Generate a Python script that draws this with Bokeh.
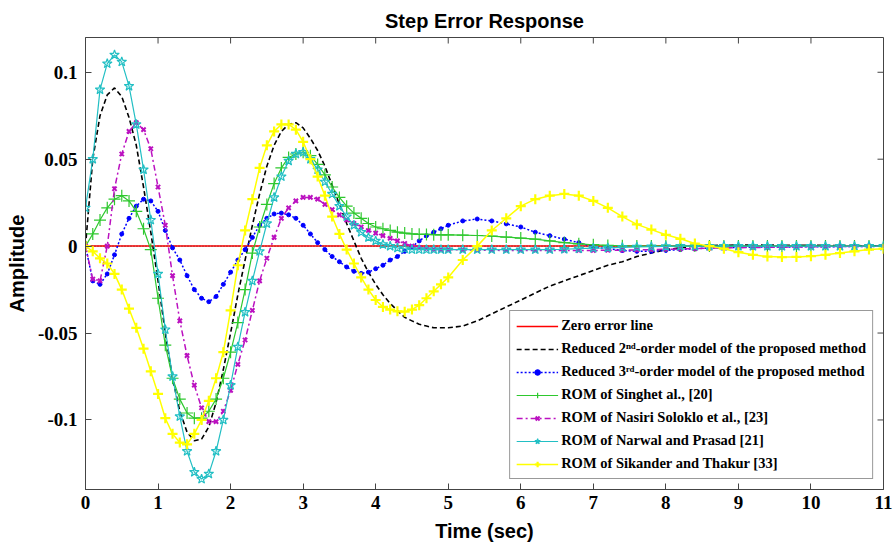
from bokeh.plotting import figure
from bokeh.models import Legend, LegendItem, FixedTicker, Range1d
from bokeh.embed import file_html
from bokeh.resources import INLINE

# ---------------- data ----------------
t = [0.0, 0.1, 0.2, 0.3, 0.4, 0.5, 0.6, 0.7, 0.8, 0.9,
     1.0, 1.1, 1.2, 1.3, 1.4, 1.5, 1.6, 1.7, 1.8, 1.9,
     2.0, 2.1, 2.2, 2.3, 2.4, 2.5, 2.6, 2.7, 2.8, 2.9,
     3.0, 3.1, 3.2, 3.3, 3.4, 3.5, 3.6, 3.7, 3.8, 3.9,
     4.0, 4.1, 4.2, 4.3, 4.4, 4.5, 4.6, 4.7, 4.8, 4.9,
     5.0, 5.2, 5.4, 5.6, 5.8, 6.0, 6.2, 6.4, 6.6, 6.8,
     7.0, 7.2, 7.4, 7.6, 7.8, 8.0, 8.2, 8.4, 8.6, 8.8,
     9.0, 9.2, 9.4, 9.6, 9.8, 10.0, 10.2, 10.4, 10.6, 10.8, 11.0]

zero_line = [0.0] * len(t)

reduced_2nd = [0.000, 0.050, 0.075, 0.087, 0.091, 0.086, 0.074, 0.058, 0.034, 0.008,
               -0.020, -0.050, -0.076, -0.095, -0.107, -0.112, -0.111, -0.104, -0.090, -0.071,
               -0.050, -0.028, -0.008, 0.012, 0.030, 0.046, 0.058, 0.066, 0.070, 0.071,
               0.068, 0.062, 0.055, 0.046, 0.035, 0.024, 0.013, 0.003, -0.007, -0.015,
               -0.022, -0.028, -0.033, -0.037, -0.041, -0.043, -0.045, -0.046, -0.047, -0.047,
               -0.047, -0.046, -0.043, -0.039, -0.035, -0.031, -0.027, -0.023, -0.020, -0.017,
               -0.014, -0.011, -0.009, -0.006, -0.004, -0.002, -0.001, 0.000, 0.0003, 0.0005,
               0.0006, 0.0006, 0.0006, 0.0005, 0.0005, 0.0004, 0.0004, 0.0003, 0.0003, 0.0002, 0.0002]

reduced_3rd = [0.000, -0.020, -0.022, -0.016, -0.005, 0.007, 0.016, 0.023, 0.027, 0.026,
               0.020, 0.009, -0.001, -0.008, -0.017, -0.025, -0.030, -0.032, -0.029, -0.022,
               -0.015, -0.008, -0.002, 0.005, 0.012, 0.016, 0.0185, 0.019, 0.018, 0.016,
               0.012, 0.007, 0.002, -0.002, -0.006, -0.009, -0.012, -0.0145, -0.0157, -0.015,
               -0.013, -0.011, -0.008, -0.006, -0.003, -0.0005, 0.003, 0.006, 0.008, 0.010,
               0.012, 0.0145, 0.0156, 0.0145, 0.0128, 0.011, 0.008, 0.006, 0.004, 0.002,
               -0.0005, -0.0015, -0.0025, -0.003, -0.003, -0.0025, -0.002, -0.0015, -0.001, -0.0008,
               -0.0007, -0.0006, -0.0005, -0.0005, -0.0004, -0.0004, -0.0003, -0.0003, -0.0002, -0.0002, -0.0001]

rom_singh = [0.000, 0.007, 0.015, 0.022, 0.027, 0.029, 0.026, 0.020, 0.010, -0.002,
             -0.030, -0.057, -0.076, -0.088, -0.096, -0.099, -0.099, -0.095, -0.088, -0.076,
             -0.061, -0.044, -0.025, -0.004, 0.011, 0.024, 0.036, 0.045, 0.051, 0.053,
             0.054, 0.052, 0.047, 0.041, 0.034, 0.028, 0.023, 0.019, 0.016, 0.013,
             0.011, 0.010, 0.009, 0.008, 0.0075, 0.007, 0.0068, 0.0067, 0.0066, 0.0065,
             0.0065, 0.0063, 0.0061, 0.0058, 0.0052, 0.0046, 0.004, 0.003, 0.002, 0.0013,
             0.0008, 0.0004, 0.0002, 0.0, 0.0, 0.0, 0.0, 0.0, 0.0, 0.0,
             0.0, 0.0, 0.0, 0.0, 0.0, 0.0, 0.0, 0.0, 0.0, 0.0, 0.0]

rom_nasiri = [0.000, -0.019, -0.020, 0.000, 0.033, 0.053, 0.066, 0.071, 0.067, 0.056,
              0.034, 0.012, -0.017, -0.043, -0.063, -0.080, -0.093, -0.101, -0.101, -0.095,
              -0.083, -0.068, -0.054, -0.037, -0.020, -0.007, 0.005, 0.016, 0.022, 0.026,
              0.028, 0.028, 0.027, 0.024, 0.021, 0.018, 0.015, 0.013, 0.011, 0.009,
              0.0075, 0.006, 0.0045, 0.003, 0.0015, 0.0, -0.001, -0.0015, -0.0018, -0.002,
              -0.002, -0.0022, -0.0023, -0.0024, -0.0025, -0.0025, -0.0025, -0.0025, -0.0025, -0.0025,
              -0.0025, -0.0024, -0.0023, -0.0022, -0.002, -0.0018, -0.0016, -0.0014, -0.0012, -0.001,
              -0.0009, -0.0008, -0.0007, -0.0006, -0.0005, -0.0004, -0.0003, -0.0002, -0.0002, -0.0001, -0.0001]

rom_narwal = [0.022, 0.050, 0.090, 0.105, 0.110, 0.106, 0.092, 0.070, 0.044, 0.015,
              -0.016, -0.048, -0.075, -0.098, -0.118, -0.130, -0.134, -0.131, -0.118, -0.100,
              -0.080, -0.058, -0.038, -0.020, -0.003, 0.013, 0.028, 0.040, 0.049, 0.053,
              0.054, 0.050, 0.044, 0.037, 0.030, 0.023, 0.017, 0.012, 0.008, 0.005,
              0.003, 0.001, 0.000, -0.001, -0.0015, -0.002, -0.002, -0.002, -0.002, -0.002,
              -0.002, -0.002, -0.002, -0.002, -0.002, -0.002, -0.002, -0.002, -0.0018, -0.0015,
              -0.0012, -0.001, -0.0007, -0.0005, -0.0003, -0.0002, 0.0, 0.0, 0.0, 0.0,
              0.0, 0.0, 0.0, 0.0, 0.0, 0.0, 0.0, 0.0, 0.0, 0.0, 0.0]

rom_sikander = [0.000, -0.003, -0.007, -0.010, -0.016, -0.025, -0.036, -0.047, -0.059, -0.072,
                -0.085, -0.099, -0.108, -0.113, -0.114, -0.108, -0.100, -0.089, -0.076, -0.061,
                -0.037, -0.011, 0.009, 0.027, 0.045, 0.058, 0.066, 0.070, 0.070, 0.067,
                0.060, 0.050, 0.040, 0.029, 0.017, 0.007, -0.002, -0.010, -0.018, -0.025,
                -0.031, -0.035, -0.0365, -0.0375, -0.0377, -0.0365, -0.034, -0.030, -0.026, -0.022,
                -0.018, -0.008, 0.000, 0.009, 0.016, 0.023, 0.027, 0.029, 0.030, 0.029,
                0.026, 0.022, 0.017, 0.0125, 0.0095, 0.0065, 0.0042, 0.0015, 0.000, -0.0015,
                -0.0035, -0.005, -0.006, -0.0063, -0.0062, -0.0058, -0.005, -0.004, -0.003, -0.002, -0.0015]

labels = ["Zero error line",
          "Reduced 2\u207f\u1d48-order model of the proposed method",
          "Reduced 3\u02b3\u1d48-order model of the proposed method",
          "ROM of Singhet al., [20]",
          "ROM of Nasiri Soloklo et al., [23]",
          "ROM of Narwal and Prasad [21]",
          "ROM of Sikander and Thakur [33]"]

x_ticks = [0, 1, 2, 3, 4, 5, 6, 7, 8, 9, 10, 11]
y_ticks = [-0.1, -0.05, 0.0, 0.05, 0.1]
y_tick_labels = ["-0.1", "-0.05", "0", "0.05", "0.1"]
x_lim = (0, 11)
y_lim = (-0.14, 0.12)

# ---------------- figure ----------------
SERIF = "Liberation Serif"
SANS = "Liberation Sans"
AXC = "#444444"

p = figure(width=896, height=547, output_backend="svg", toolbar_location=None,
           x_range=Range1d(*x_lim), y_range=Range1d(*y_lim),
           min_border_left=85, min_border_right=13, min_border_top=37, min_border_bottom=58,
           title="Step Error Response")
p.background_fill_color = "white"
p.border_fill_color = "white"
p.outline_line_color = AXC
p.grid.visible = False

p.title.align = "center"
p.title.text_font = SANS
p.title.text_font_style = "bold"
p.title.text_font_size = "20px"
p.title.text_color = "black"
p.title.standoff = 12

for ax in (p.xaxis[0], p.yaxis[0]):
    ax.major_label_text_font = SERIF
    ax.major_label_text_font_style = "bold"
    ax.major_label_text_font_size = "19px"
    ax.major_label_text_color = "black"
    ax.axis_label_text_font = SANS
    ax.axis_label_text_font_style = "bold"
    ax.axis_label_text_font_size = "20px"
    ax.axis_label_text_color = "black"
    ax.major_tick_in = 6
    ax.major_tick_out = 0
    ax.minor_tick_in = 0
    ax.minor_tick_out = 0
    ax.axis_line_color = AXC
    ax.major_tick_line_color = AXC

p.xaxis[0].ticker = FixedTicker(ticks=x_ticks)
p.xaxis[0].axis_label = "Time (sec)"
p.xaxis[0].major_label_standoff = 6
p.xaxis[0].axis_label_standoff = 8

p.yaxis[0].ticker = FixedTicker(ticks=y_ticks)
p.yaxis[0].major_label_overrides = {v: s for v, s in zip(y_ticks, y_tick_labels)}
p.yaxis[0].axis_label = "Amplitude"
p.yaxis[0].major_label_standoff = 8
p.yaxis[0].axis_label_standoff = 7

# mirror tick marks on the top and right edges of the box (6 px long, drawn inward)
px_x = (x_lim[1] - x_lim[0]) / 798.0
px_y = (y_lim[1] - y_lim[0]) / 452.0
p.segment(x0=x_ticks, x1=x_ticks, y0=[y_lim[1]] * len(x_ticks),
          y1=[y_lim[1] - 6 * px_y] * len(x_ticks), line_color=AXC, line_width=1)
p.segment(x0=[x_lim[1]] * len(y_ticks), x1=[x_lim[1] - 6 * px_x] * len(y_ticks),
          y0=y_ticks, y1=y_ticks, line_color=AXC, line_width=1)

# ---------------- curves ----------------
r_zero = p.line(t, zero_line, line_color="#ff0000", line_width=1.5)
p.line(t, zero_line, line_color="black", line_width=0.8, line_dash="1 2", line_alpha=0.7)

r_black = p.line(t, reduced_2nd, line_color="black", line_width=1.6, line_dash="5 3")

r_blue_l = p.line(t, reduced_3rd, line_color="#0000ff", line_width=1.5, line_dash="2 2")
r_blue_m = p.scatter(t, reduced_3rd, marker="circle", size=4, line_color="#0000ff", fill_color="#0000ff")

r_green_l = p.line(t, rom_singh, line_color="#2ec82e", line_width=1.2)
r_green_m = p.scatter(t, rom_singh, marker="cross", size=12, line_color="#2ec82e", line_width=1.2)

r_mag_l = p.line(t, rom_nasiri, line_color="#bb11c0", line_width=1.5, line_dash="6 3 2 3")
r_mag_m = p.scatter(t, rom_nasiri, marker="x", size=6, line_color="#bb11c0", line_width=2)

r_cyan_l = p.line(t, rom_narwal, line_color="#22bfc4", line_width=1.2)
r_cyan_m = p.scatter(t, rom_narwal, marker="star", size=10, line_color="#22bfc4",
                     fill_alpha=0, line_width=1.2)

r_yel_l = p.line(t, rom_sikander, line_color="#ffff00", line_width=1.5)
r_yel_m = p.scatter(t, rom_sikander, marker="cross", size=10, line_color="#ffff00", line_width=2.2)

items = [
    LegendItem(label=labels[0], renderers=[r_zero]),
    LegendItem(label=labels[1], renderers=[r_black]),
    LegendItem(label=labels[2], renderers=[r_blue_l, r_blue_m]),
    LegendItem(label=labels[3], renderers=[r_green_l, r_green_m]),
    LegendItem(label=labels[4], renderers=[r_mag_l, r_mag_m]),
    LegendItem(label=labels[5], renderers=[r_cyan_l, r_cyan_m]),
    LegendItem(label=labels[6], renderers=[r_yel_l, r_yel_m]),
]
legend = Legend(items=items, location="bottom_right", margin=10, padding=6,
                glyph_width=42, glyph_height=14, label_height=14, spacing=6,
                label_standoff=3, label_text_font=SERIF, label_text_font_style="bold",
                label_text_font_size="14.5px", label_text_color="black",
                border_line_color="#333333", border_line_width=1,
                background_fill_color="white", background_fill_alpha=1.0)
p.add_layout(legend, "center")

open("out.html", "w").write(file_html(p, INLINE))
